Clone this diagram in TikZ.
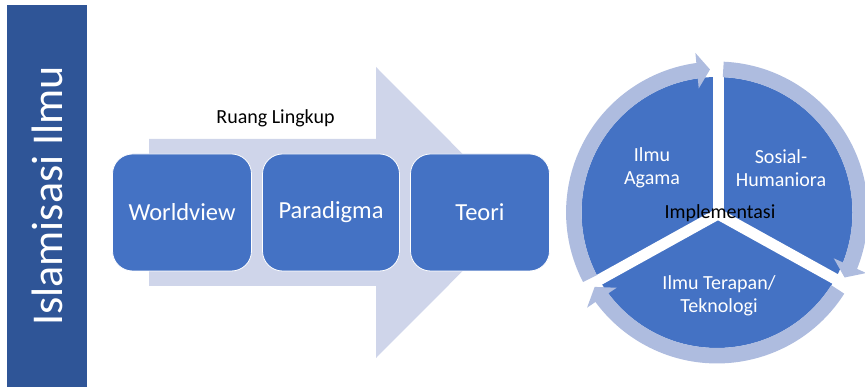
\documentclass[tikz,border=0pt]{standalone}
\usepackage{fontspec}
\setmainfont{Carlito}
\usetikzlibrary{arrows.meta, bending}

\definecolor{barblue}{HTML}{2F5597}
\definecolor{boxblue}{HTML}{4472C4}
\definecolor{flowgray}{HTML}{CFD5EA}
\definecolor{ringblue}{HTML}{AEBCDF}

\tikzset{
  stepbox/.style={draw=white, line width=0.8pt, fill=boxblue, rounded corners=20pt,
    minimum width=139pt, minimum height=117pt, text=white,
    font=\fontsize{24.5}{29}\selectfont},
  pielabel/.style={text=white, align=center, font=\fontsize{20}{23}\selectfont},
  ringarrow/.style={draw=ringblue, line width=15.5pt,
    -{Triangle[width=35pt,length=13pt]}},
  gapline/.style={draw=white, line width=11pt}
}

\begin{document}
\begin{tikzpicture}[x=1pt,y=1pt,>=latex]
        \useasboundingbox (0,0) rectangle (865,388);

        % draw the title bar
        \node[fill=barblue, text=white, rotate=90, minimum width=382pt, minimum height=80pt,
              font=\fontsize{44}{50}\selectfont] (judul) at (47,192) {Islamisasi Ilmu};

        % draw the big arrow behind the boxes
        \fill[flowgray] (149,249) -- (376,249) -- (376,321) -- (521,175.5)
              -- (376,30) -- (376,102) -- (149,102) -- cycle;
        \node[font=\fontsize{20}{24}\selectfont] (lingkup) at (275.5,270) {Ruang Lingkup};

        % draw the three steps
        \node[stepbox] (worldview) at (182,175.5) {Worldview};
        \node[stepbox, minimum width=137pt] (paradigma) at (331,175.5) {Paradigma};
        \node[stepbox] (teori) at (480,175.5) {Teori};

        % draw the cycle
        \coordinate (cyc) at (717,175.5);
        \coordinate (pusat) at (718,174);
        \fill[boxblue] (cyc) circle (135.5);
        \draw[gapline] (pusat) -- ++(90:140);
        \draw[gapline] (pusat) -- ++(-29:145);
        \draw[gapline] (pusat) -- ++(209:145);

        % the ring arrows go clockwise
        \draw[ringarrow] (cyc) ++(207.5:143.2) arc[start angle=207.5, end angle=92.8, radius=143.2];
        \draw[ringarrow] (cyc) ++(87.5:143.2) arc[start angle=87.5, end angle=-27, radius=143.2];
        \draw[ringarrow] (cyc) ++(-32.5:143.2) arc[start angle=-32.5, end angle=-148.7, radius=143.2];

        % labels of the segments
        \node[pielabel] (agama) at (652,220) {Ilmu\\Agama};
        \node[pielabel] (sosial) at (781,220) {Sosial-\\Humaniora};
        \node[pielabel] (terapan) at (719,92) {Ilmu Terapan/\\Teknologi};
        \node[font=\fontsize{20}{24}\selectfont] (impl) at (720,175) {Implementasi};
    \end{tikzpicture}
\end{document}
